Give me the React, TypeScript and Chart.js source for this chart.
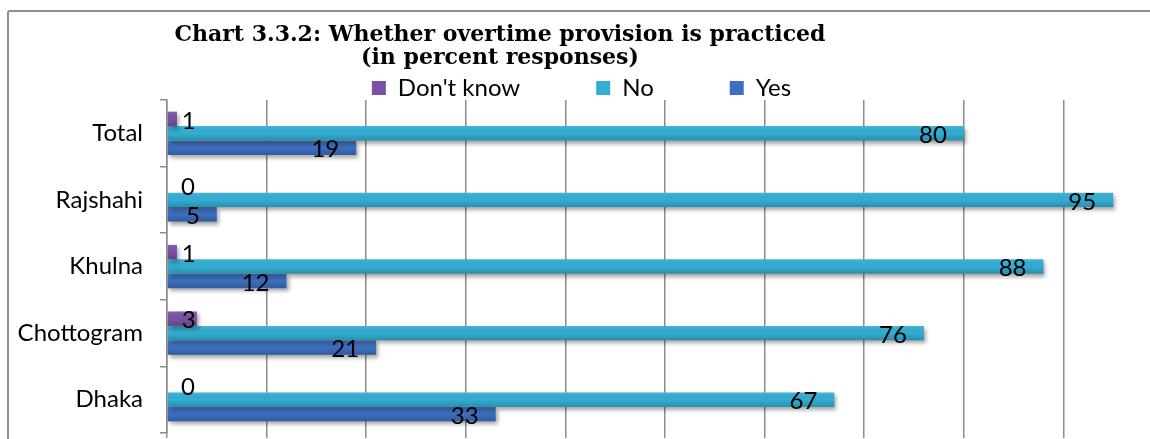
import React, { useEffect, useRef } from 'react';
import { Chart, registerables } from 'chart.js';

Chart.register(...registerables);

const categories = ['Total', 'Rajshahi', 'Khulna', 'Chottogram', 'Dhaka'];
const seriesNames = ["Don't know", 'No', 'Yes'];
const dontKnowValues = [1, 0, 1, 3, 0];
const noValues = [80, 95, 88, 76, 67];
const yesValues = [19, 5, 12, 21, 33];
const titleLines = ['Chart 3.3.2: Whether overtime provision is practiced', '(in percent responses)'];
const xMin = 0;
const xMax = 100;
const xStep = 10;

const colors = ['#7B52A3', '#33ADD2', '#3C6FC0'];
const LABEL_FONT = 'Lato';

const titlePlugin = {
  id: 'customTitle',
  afterDraw(chart: any) {
    const ctx = chart.ctx;
    ctx.save();
    ctx.fillStyle = '#000';
    ctx.font = 'bold 22px "DejaVu Serif"';
    ctx.textAlign = 'center';
    ctx.textBaseline = 'alphabetic';
    ctx.fillText(titleLines[0], 500, 41);
    ctx.fillText(titleLines[1], 500, 64);
    ctx.restore();
  },
};

const barEffects = {
  id: 'barEffects',
  beforeDatasetsDraw(chart: any) {
    const ctx = chart.ctx;
    ctx.save();
    ctx.shadowColor = 'rgba(0,0,0,0.35)';
    ctx.shadowBlur = 4;
    ctx.shadowOffsetX = 2;
    ctx.shadowOffsetY = 3;
  },
  afterDatasetsDraw(chart: any) {
    const ctx = chart.ctx;
    ctx.restore();
    chart.data.datasets.forEach((_ds: any, di: number) => {
      const meta = chart.getDatasetMeta(di);
      meta.data.forEach((el: any) => {
        const h = el.height;
        const top = el.y - h / 2;
        const left = Math.min(el.base, el.x);
        const w = Math.abs(el.x - el.base);
        if (w <= 0) return;
        const g = ctx.createLinearGradient(0, top, 0, top + h);
        g.addColorStop(0, 'rgba(255,255,255,0.10)');
        g.addColorStop(0.5, 'rgba(0,0,0,0.0)');
        g.addColorStop(1, 'rgba(0,0,0,0.18)');
        ctx.save();
        ctx.fillStyle = g;
        ctx.fillRect(left, top, w, h);
        ctx.restore();
      });
    });
    ctx.save();
    ctx.fillStyle = '#000';
    ctx.font = `24px ${LABEL_FONT}`;
    ctx.textAlign = 'right';
    ctx.textBaseline = 'middle';
    chart.data.datasets.forEach((ds: any, di: number) => {
      const meta = chart.getDatasetMeta(di);
      meta.data.forEach((el: any, i: number) => {
        const x = Math.max(el.x - 17, el.base + 28);
        ctx.fillText(String(ds.data[i]), x, el.y + 2);
      });
    });
    ctx.restore();
  },
};

export default function App() {
  const ref = useRef<HTMLCanvasElement>(null);
  useEffect(() => {
    if (!ref.current) return;
    const chart = new Chart(ref.current, {
      type: 'bar',
      data: {
        labels: categories,
        datasets: [
          { label: seriesNames[0], data: dontKnowValues, backgroundColor: colors[0], borderWidth: 0 },
          { label: seriesNames[1], data: noValues, backgroundColor: colors[1], borderWidth: 0 },
          { label: seriesNames[2], data: yesValues, backgroundColor: colors[2], borderWidth: 0 },
        ],
      },
      plugins: [titlePlugin, barEffects],
      options: {
        indexAxis: 'y',
        responsive: false,
        animation: false,
        devicePixelRatio: 1,
        layout: { padding: { top: 0, bottom: 1, left: 0, right: 0 } },
        datasets: { bar: { categoryPercentage: 0.65, barPercentage: 1 } },
        plugins: {
          title: { display: false },
          tooltip: { enabled: false },
          legend: {
            display: true,
            position: 'top',
            maxHeight: 100,
            labels: {
              boxWidth: 14,
              boxHeight: 14,
              padding: 76,
              color: '#000',
              font: { family: LABEL_FONT, size: 24 },
            },
          },
        },
        scales: {
          x: {
            min: xMin,
            max: xMax,
            afterFit(scale: any) {
              scale.height = 5;
              scale.paddingLeft = 0;
              scale.paddingRight = 0;
            },
            ticks: { display: false, stepSize: xStep },
            grid: { color: '#8c8c8c', lineWidth: 1.5, drawTicks: true, tickLength: 5 },
            border: { display: false },
          },
          y: {
            afterFit(scale: any) {
              scale.width = 167;
              scale.paddingTop = 0;
              scale.paddingBottom = 0;
            },
            ticks: {
              color: '#000',
              padding: 17,
              font: { family: LABEL_FONT, size: 24 },
            },
            grid: { drawOnChartArea: false, drawTicks: true, tickLength: 7, color: '#8c8c8c', lineWidth: 1.5 },
            border: { display: true, color: '#8c8c8c', width: 1.5 },
          },
        },
      },
    });
    return () => chart.destroy();
  }, []);

  return (
    <div
      style={{
        position: 'fixed',
        left: 0,
        top: 0,
        width: 1150,
        height: 439,
        overflow: 'hidden',
        background: '#fff',
      }}
    >
      <div
        style={{
          position: 'absolute',
          left: 7,
          top: 10,
          width: 1300,
          height: 600,
          border: '2px solid #8e8e8e',
          borderRadius: 3,
          boxSizing: 'border-box',
        }}
      />
      <canvas
        ref={ref}
        width={1163}
        height={439}
        style={{ position: 'absolute', left: 0, top: 0, width: 1163, height: 439 }}
      />
    </div>
  );
}
